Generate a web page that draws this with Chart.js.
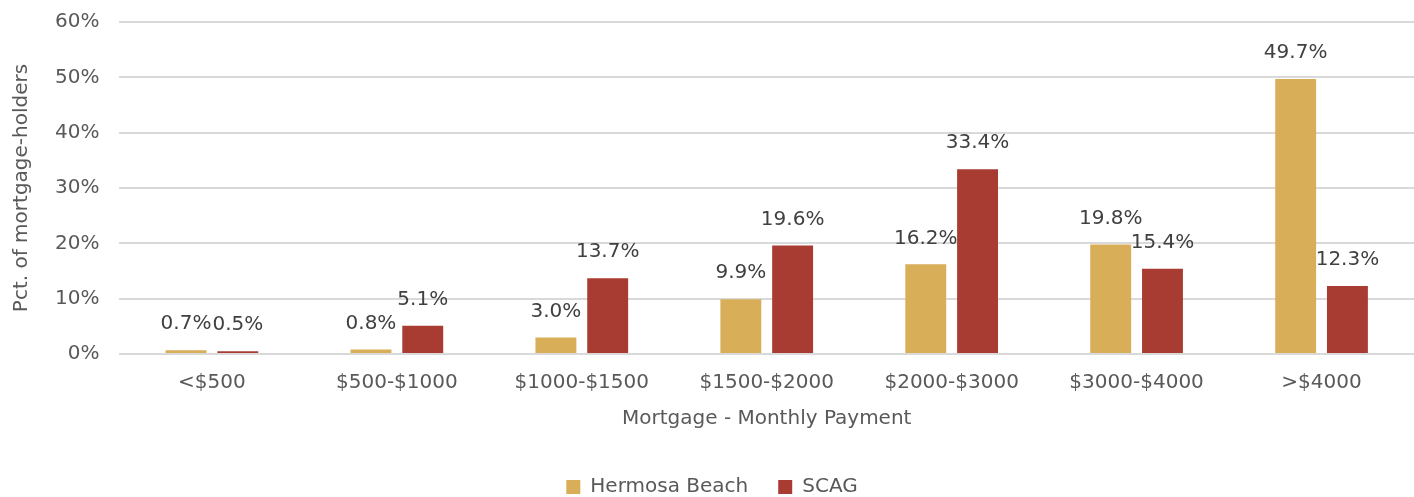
<!DOCTYPE html>
<html>
<head>
<meta charset="utf-8">
<script src="https://cdn.jsdelivr.net/npm/chart.js@4/dist/chart.umd.min.js"></script>
<style>
  html, body { margin: 0; padding: 0; background: #fff; overflow: hidden; }
  #wrap { width: 1414px; height: 507px; margin-top: -10px; }
</style>
</head>
<body>
<div id="wrap"><canvas id="mortgageChart"></canvas></div>
<script>
// categorías y valores
const categories = ['<$500', '$500-$1000', '$1000-$1500', '$1500-$2000', '$2000-$3000', '$3000-$4000', '>$4000'];
const hermosaBeach = [0.7, 0.8, 3.0, 9.9, 16.2, 19.8, 49.7];
const scag = [0.5, 5.1, 13.7, 19.6, 33.4, 15.4, 12.3];
const yTicks = [0, 10, 20, 30, 40, 50, 60];

const fontFamily = '"DejaVu Sans", sans-serif';

// etiquetas encima de cada barra
const barLabels = {
  id: 'barLabels',
  afterDatasetsDraw(chart) {
    const ctx = chart.ctx;
    ctx.save();
    ctx.font = '20px ' + fontFamily;
    ctx.fillStyle = '#404040';
    ctx.textAlign = 'center';
    ctx.textBaseline = 'middle';
    chart.data.datasets.forEach((ds, i) => {
      chart.getDatasetMeta(i).data.forEach((bar, j) => {
        ctx.fillText(ds.data[j].toFixed(1) + '%', bar.x, bar.y - 26);
      });
    });
    ctx.restore();
  }
};

const ctx = document.getElementById('mortgageChart').getContext('2d');
new Chart(ctx, {
  type: 'bar',
  data: {
    labels: categories,
    datasets: [
      { label: 'Hermosa Beach', data: hermosaBeach, backgroundColor: '#D9AE59' },
      { label: 'SCAG', data: scag, backgroundColor: '#A93C32' }
    ]
  },
  options: {
    responsive: true,
    maintainAspectRatio: false,
    animation: false,
    categoryPercentage: 0.56,
    barPercentage: 0.79,
    layout: { padding: { top: 0, right: 0, left: 10, bottom: -10 } },
    scales: {
      x: {
        grid: { display: false },
        border: { display: false },
        ticks: { color: '#595959', font: { size: 20, family: fontFamily }, padding: 9 },
        title: {
          display: true,
          text: 'Mortgage - Monthly Payment',
          color: '#595959',
          font: { size: 20, family: fontFamily },
          padding: { top: 3, bottom: 16 }
        }
      },
      y: {
        min: 0,
        max: 60,
        afterBuildTicks: (axis) => { axis.ticks = yTicks.map(v => ({ value: v })); },
        grid: { color: '#d9d9d9', lineWidth: 2, drawTicks: false },
        border: { display: false },
        ticks: {
          color: '#595959',
          font: { size: 20, family: fontFamily },
          padding: 20,
          callback: (v) => v + '%'
        },
        title: {
          display: true,
          text: 'Pct. of mortgage-holders',
          color: '#595959',
          font: { size: 20, family: fontFamily },
          padding: { top: 0, bottom: 1 }
        }
      }
    },
    plugins: {
      legend: {
        position: 'bottom',
        labels: {
          color: '#595959',
          font: { size: 20, family: fontFamily },
          boxWidth: 14,
          boxHeight: 14,
          padding: 30
        }
      },
      tooltip: { enabled: false }
    }
  },
  plugins: [barLabels]
});
</script>
</body>
</html>
